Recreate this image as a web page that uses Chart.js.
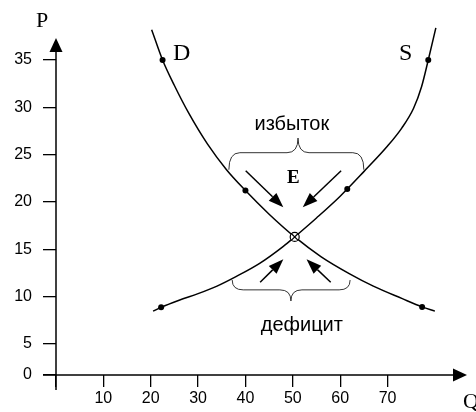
<!DOCTYPE html>
<html>
<head>
<meta charset="utf-8">
<script src="https://cdn.jsdelivr.net/npm/chart.js@4"></script>
<style>
  html, body { margin: 0; padding: 0; background: #fff; }
  canvas { display: block; }
</style>
</head>
<body>
<canvas id="market" width="476" height="412"></canvas>
<script>
// Demand curve D (quantity, price)
const demandQ = [20.2, 22.5, 25, 28, 32, 36, 40, 45, 50.4, 56, 62, 67, 73, 77.3, 80];
const demandP = [38.2, 35, 32.3, 29.4, 26.1, 23.4, 21.2, 18.7, 16.3, 14.2, 12.4, 11.1, 9.8, 8.9, 8.45];

// Supply curve S
const supplyQ = [20.5, 22.2, 26, 30, 34, 38, 43, 48, 50.4, 55, 60, 65, 70, 73, 75.5, 77.2, 78.6, 80.2];
const supplyP = [8.45, 8.85, 9.6, 10.3, 11.1, 12.1, 13.5, 15.3, 16.3, 18.3, 20.6, 23.2, 25.9, 27.8, 29.9, 32.2, 35, 38.4];

// Marked points on each curve
const demandDotQ = [22.5, 40, 77.3];
const demandDotP = [35, 21.2, 8.9];
const supplyDotQ = [22.2, 61.5, 78.6];
const supplyDotP = [8.85, 21.35, 35];

// Equilibrium E
const equilibriumQ = [50.4];
const equilibriumP = [16.3];

// Axis ticks; the lowest price tick sits on the Q axis and reads "0"
const xTicks = [0, 10, 20, 30, 40, 50, 60, 70];
const yTicks = [1.7, 5, 10, 15, 20, 25, 30, 35];
const yTickLabels = ['0', '5', '10', '15', '20', '25', '30', '35'];

const toPoints = (xs, ys) => xs.map((x, i) => ({ x: x, y: ys[i] }));

const serif = 'Liberation Serif, Times New Roman, serif';
const sans = 'Liberation Sans, Arial, sans-serif';

function arrow(ctx, x1, y1, x2, y2, len, half) {
    const a = Math.atan2(y2 - y1, x2 - x1);
    const bx = x2 - len * Math.cos(a);
    const by = y2 - len * Math.sin(a);
    ctx.beginPath();
    ctx.moveTo(x1, y1);
    ctx.lineTo(bx, by);
    ctx.stroke();
    ctx.beginPath();
    ctx.moveTo(x2, y2);
    ctx.lineTo(bx + half * Math.sin(a), by - half * Math.cos(a));
    ctx.lineTo(bx - half * Math.sin(a), by + half * Math.cos(a));
    ctx.closePath();
    ctx.fill();
}

// curly brace between x1 and x2, ends at yEnd, bar at yMid, point at (xt, yTip)
function brace(ctx, x1, x2, xt, yEnd, yMid, yTip) {
    const r = 11;
    ctx.beginPath();
    ctx.moveTo(x1, yEnd);
    ctx.quadraticCurveTo(x1, yMid, x1 + r, yMid);
    ctx.lineTo(xt - r, yMid);
    ctx.quadraticCurveTo(xt, yMid, xt, yTip);
    ctx.quadraticCurveTo(xt, yMid, xt + r, yMid);
    ctx.lineTo(x2 - r, yMid);
    ctx.quadraticCurveTo(x2, yMid, x2, yEnd);
    ctx.stroke();
}

const notes = {
    id: 'notes',
    afterDraw(chart) {
        const ctx = chart.ctx;
        const area = chart.chartArea;
        const xs = chart.scales.x;
        const ys = chart.scales.y;
        const px = v => xs.getPixelForValue(v);
        const py = v => ys.getPixelForValue(v);

        ctx.save();
        ctx.strokeStyle = '#000';
        ctx.fillStyle = '#000';
        ctx.lineCap = 'butt';

        // axes with arrow heads
        ctx.lineWidth = 1.5;
        arrow(ctx, area.left, area.bottom + 15, area.left, area.top + 13, 14, 6.5);
        arrow(ctx, area.left - 13, area.bottom, area.right + 7, area.bottom, 14, 6.5);

        // axis names
        ctx.font = '22px ' + serif;
        ctx.textAlign = 'center';
        ctx.textBaseline = 'alphabetic';
        ctx.fillText('P', area.left - 14, area.top + 2);
        ctx.textAlign = 'left';
        ctx.fillText('Q', area.right + 3, area.bottom + 33);

        // curve names
        ctx.font = '24px ' + serif;
        ctx.fillText('D', px(24.7), py(35));
        ctx.fillText('S', px(72.4), py(35));

        ctx.font = 'bold 19px ' + serif;
        ctx.textAlign = 'center';
        ctx.fillText('E', px(50.1), py(21.96));

        ctx.font = '20px ' + sans;
        ctx.fillText('избыток', px(49.8), py(27.6));
        ctx.fillText('дефицит', px(51.9), py(6.35));

        // braces over the surplus and under the shortage
        ctx.lineWidth = 1;
        ctx.strokeStyle = '#333';
        brace(ctx, px(36.5), px(65.0), px(51.1), py(23.4), py(25.2), py(26.75));
        brace(ctx, px(37.2), px(62.1), px(49.6), py(11.74), py(10.7), py(9.52));

        // arrows pointing to the equilibrium
        ctx.strokeStyle = '#000';
        ctx.lineWidth = 1.5;
        arrow(ctx, px(40.05), py(23.3), px(48.0), py(19.43), 15, 5.5);
        arrow(ctx, px(60.2), py(23.3), px(52.1), py(19.43), 15, 5.5);
        arrow(ctx, px(43.1), py(11.5), px(48.0), py(13.93), 15, 5.5);
        arrow(ctx, px(58.0), py(11.5), px(52.9), py(13.93), 15, 5.5);

        ctx.restore();
    }
};

const tickFont = { family: sans, size: 16 };

new Chart(document.getElementById('market'), {
    type: 'scatter',
    data: {
        datasets: [
            {
                label: 'E cross',
                data: toPoints(equilibriumQ, equilibriumP),
                pointStyle: 'crossRot',
                pointRadius: 4.5,
                borderColor: '#000',
                borderWidth: 1.2
            },
            {
                label: 'E',
                data: toPoints(equilibriumQ, equilibriumP),
                pointStyle: 'circle',
                pointRadius: 4.5,
                backgroundColor: '#fff',
                borderColor: '#000',
                borderWidth: 1.2
            },
            {
                label: 'D points',
                data: toPoints(demandDotQ, demandDotP),
                pointRadius: 3,
                backgroundColor: '#000',
                borderColor: '#000',
                borderWidth: 0
            },
            {
                label: 'S points',
                data: toPoints(supplyDotQ, supplyDotP),
                pointRadius: 3,
                backgroundColor: '#000',
                borderColor: '#000',
                borderWidth: 0
            },
            {
                label: 'D',
                data: toPoints(demandQ, demandP),
                showLine: true,
                cubicInterpolationMode: 'monotone',
                pointRadius: 0,
                borderColor: '#000',
                borderWidth: 1.5,
                clip: false
            },
            {
                label: 'S',
                data: toPoints(supplyQ, supplyP),
                showLine: true,
                cubicInterpolationMode: 'monotone',
                pointRadius: 0,
                borderColor: '#000',
                borderWidth: 1.5,
                clip: false
            }
        ]
    },
    options: {
        responsive: false,
        animation: false,
        layout: {
            padding: { top: 25, right: 16, left: 0, bottom: 0 }
        },
        plugins: {
            legend: { display: false },
            tooltip: { enabled: false }
        },
        scales: {
            x: {
                type: 'linear',
                min: 0,
                max: 85.3,
                afterFit: scale => { scale.height = 37; },
                afterBuildTicks: scale => { scale.ticks = xTicks.map(v => ({ value: v })); },
                grid: {
                    drawOnChartArea: false,
                    tickLength: 12,
                    color: '#000',
                    lineWidth: 1.3
                },
                border: { display: false },
                ticks: {
                    color: '#000',
                    font: tickFont,
                    padding: 2,
                    maxRotation: 0,
                    autoSkip: false,
                    callback: value => (value === 0 ? '' : value)
                }
            },
            y: {
                type: 'linear',
                min: 1.7,
                max: 38.7,
                afterFit: scale => { scale.width = 56; },
                afterBuildTicks: scale => { scale.ticks = yTicks.map(v => ({ value: v })); },
                grid: {
                    drawOnChartArea: false,
                    tickLength: 13,
                    color: '#000',
                    lineWidth: 1.3
                },
                border: { display: false },
                ticks: {
                    color: '#000',
                    font: tickFont,
                    padding: 11,
                    autoSkip: false,
                    callback: (value, index) => yTickLabels[index]
                }
            }
        }
    },
    plugins: [notes]
});
</script>
</body>
</html>
